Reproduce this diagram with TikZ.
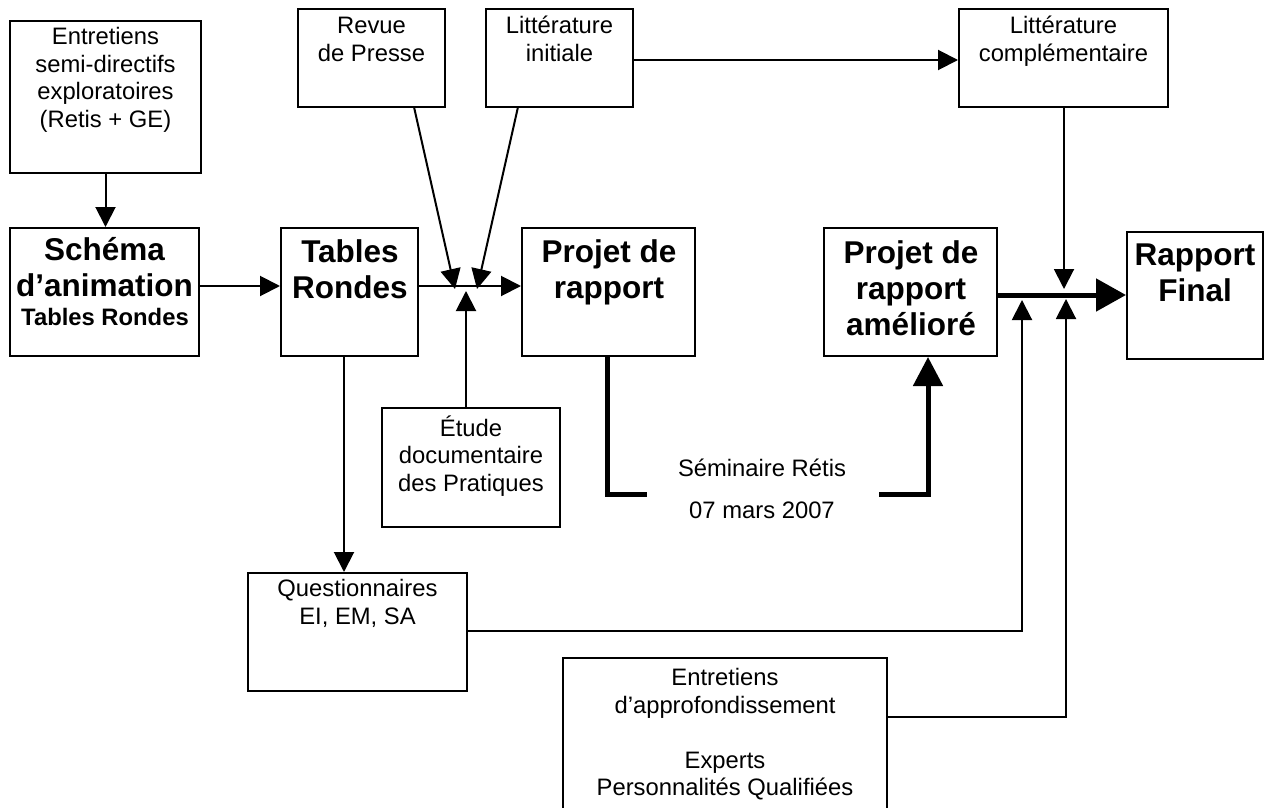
\documentclass[tikz,border=0pt]{standalone}
\usepackage{fontspec}
\setmainfont{Liberation Sans}
\usetikzlibrary{arrows.meta,fit}
\newcommand\smallf{\fontsize{11.9pt}{13.75pt}\selectfont}
\newcommand\bigf{\fontsize{15.75pt}{18pt}\selectfont\bfseries}
\begin{document}
\begin{tikzpicture}[x=0.5pt,y=-0.5pt,
  box/.style={draw,line width=1pt,inner sep=0pt,rectangle},
  txt/.style={font=\smallf,align=center,inner sep=0pt,anchor=north},
  btxt/.style={font=\bigf,align=center,inner sep=0pt,anchor=north},
  thin/.style={line width=1pt},
  arr/.style={line width=1pt,-{Triangle[length=10pt,width=10pt]}},
  thickline/.style={line width=2.5pt},
  tarr/.style={line width=2.5pt,-{Triangle[length=15pt,width=16pt]}},
  tuarr/.style={line width=2.5pt,-{Triangle[length=14.5pt,width=14.5pt]}}]
\useasboundingbox (0,0) rectangle (1269,808);
\clip (0,0) rectangle (1269,808);
\fill[white] (0,0) rectangle (1269,808);
% boxes
\node[box,fit={(10,21) (201,173)}] (A) {};
\node[box,fit={(10,228) (199,356)}] (Sch) {};
\node[box,fit={(281,228) (418,356)}] (TR) {};
\node[box,fit={(298,9) (445,107)}] (Rev) {};
\node[box,fit={(486,9) (633,107)}] (LitI) {};
\node[box,fit={(522,228) (695,356)}] (PR) {};
\node[box,fit={(959,9) (1168,107)}] (LitC) {};
\node[box,fit={(824,228) (997,356)}] (PA) {};
\node[box,fit={(1127,232) (1263,359)}] (RF) {};
\node[box,fit={(382,408) (560,527)}] (Et) {};
\node[box,fit={(248,573) (467,691)}] (Q) {};
\node[box,fit={(563,658) (887,830)}] (EA) {};
% texts
\node[txt] (tA) at (105.5,27) {Entretiens\\semi-directifs\\exploratoires\\(Retis + GE)};
\node[txt] (tRev) at (371.5,17) {Revue\\de Presse};
\node[txt] (tLitI) at (559.5,16) {Littérature\\initiale};
\node[txt] (tLitC) at (1063.5,16) {Littérature\\complémentaire};
\node[btxt] (tSch) at (104.5,237) {Schéma\\d’animation};
\node[font=\smallf\bfseries,inner sep=0pt,anchor=base] (tSch2) at (105,325) {Tables Rondes};
\node[btxt] (tTR) at (350,239) {Tables\\Rondes};
\node[btxt] (tPR) at (609,239) {Projet de\\rapport};
\node[btxt] (tPA) at (911,240) {Projet de\\rapport\\amélioré};
\node[btxt] (tRF) at (1195,243) {Rapport\\Final};
\node[txt] (tEt) at (471,415) {Étude\\documentaire\\des Pratiques};
\node[txt] (tQ) at (357.5,579) {Questionnaires\\EI, EM, SA};
\node[txt] (tEA) at (725,668) {Entretiens\\d’approfondissement\\[13.75pt]Experts\\Personnalités Qualifiées};
\node[font=\smallf,inner sep=0pt,anchor=base] (sem1) at (762,476) {Séminaire Rétis};
\node[font=\smallf,inner sep=0pt,anchor=base] (sem2) at (762,518) {07 mars 2007};
% coordinates
\coordinate (c1) at (455,289);
\coordinate (c2) at (477,289);
\coordinate (c3) at (466,291);
\coordinate (s1) at (647,494);
\coordinate (s2) at (879,494);
\coordinate (u1) at (1022,300);
\coordinate (u2) at (1066,299);
\coordinate (d1) at (1064,289);
% connectors
\draw[arr] (A.south) -- (A.south |- Sch.north);
\draw[arr] (Sch.east |- 0,286) -- (TR.west |- 0,286);
\draw[arr] (TR.east |- 0,286) -- (PR.west |- 0,286);
\draw[arr] (414,107) -- (c1);
\draw[arr] (518,107) -- (c2);
\draw[arr] (Et.north -| c3) -- (c3);
\draw[arr] (LitI.east |- 0,60) -- (LitC.west |- 0,60);
\draw[arr] (TR.south -| 344,0) -- (Q.north -| 344,0);
\draw[thickline] (PR.south -| 607,0) |- (s1);
\draw[tuarr] (s2) -| (PA.south -| 928,0);
\draw[tarr] (PA.east |- 0,295) -- (RF.west |- 0,295);
\draw[arr] (LitC.south -| d1) -- (d1);
\draw[arr] (Q.east |- 0,631) -| (u1);
\draw[arr] (EA.east |- 0,717) -| (u2);
\end{tikzpicture}
\end{document}
